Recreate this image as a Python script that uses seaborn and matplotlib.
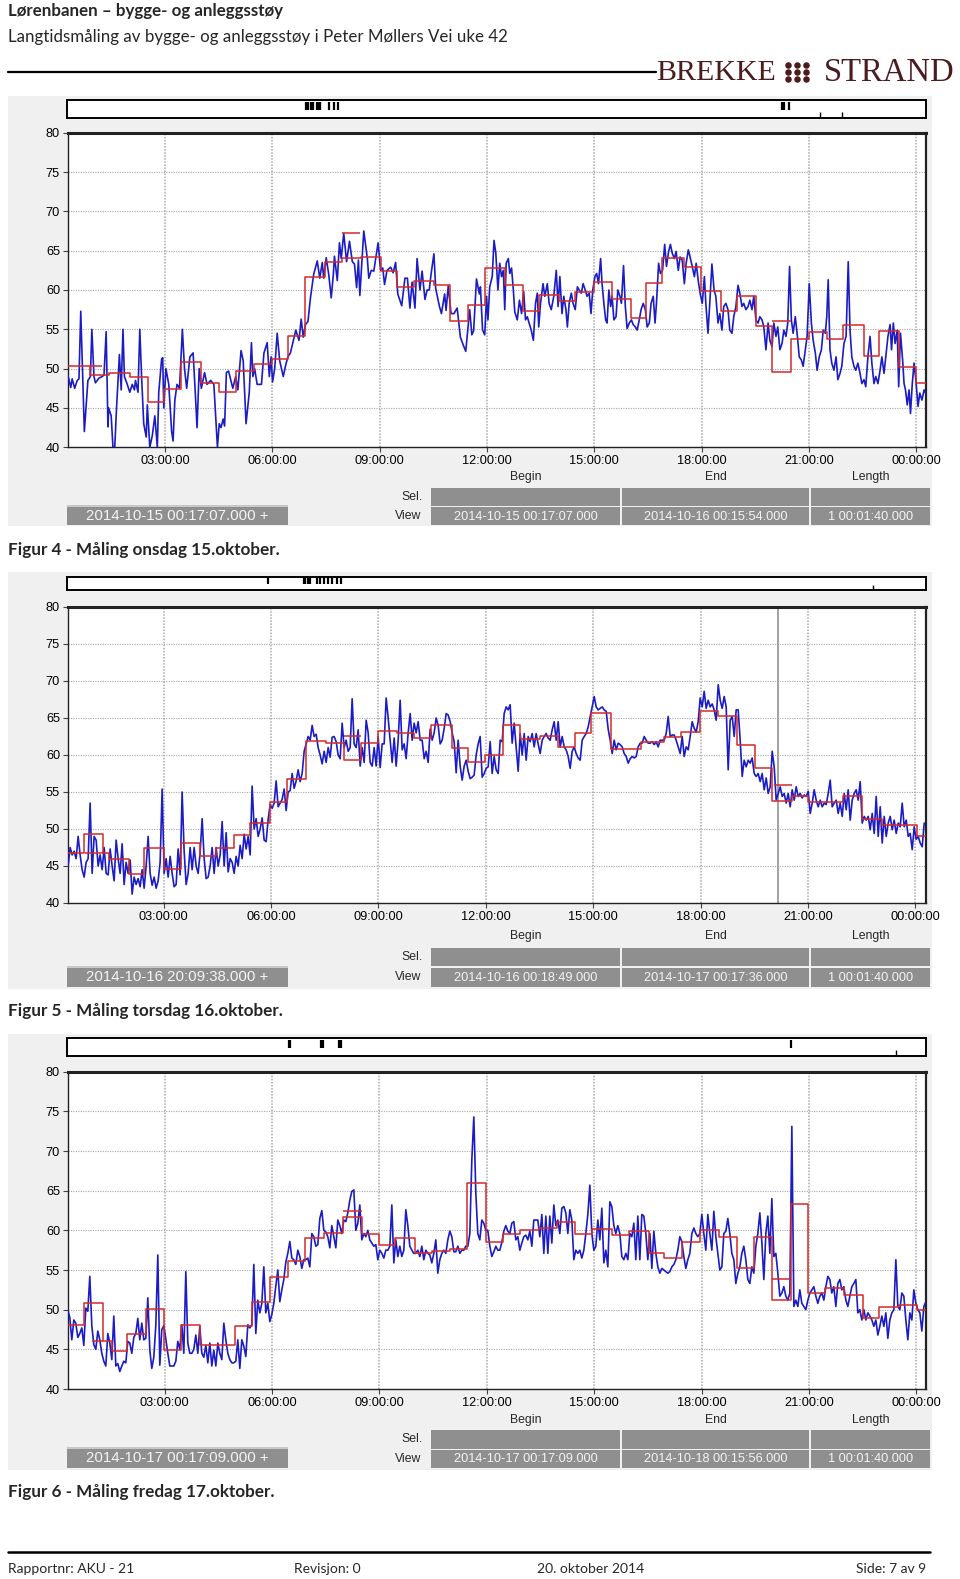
import numpy as np
import seaborn as sns
import matplotlib.pyplot as plt
from matplotlib.patches import Rectangle

W, H = 960, 1579

# ---------------- data (hours after midnight, dB) ----------------
# Figur 4 - blue trace, read point by point
p1_blue_t = [0.30, 0.37, 0.41, 0.48, 0.55, 0.60, 0.65, 0.75, 0.85, 0.92,
             0.96, 1.02, 1.06, 1.16, 1.25, 1.30, 1.36, 1.41, 1.43, 1.50,
             1.55, 1.60, 1.65, 1.73, 1.78, 1.83, 1.87, 1.95, 2.02, 2.09,
             2.15, 2.18, 2.25, 2.30, 2.35, 2.41, 2.48, 2.51, 2.58, 2.65,
             2.72, 2.79, 2.83, 2.91, 2.94, 2.97, 3.03, 3.11, 3.19, 3.23,
             3.28, 3.34, 3.41, 3.49, 3.55, 3.61, 3.70, 3.79, 3.85, 3.90,
             3.96, 4.02, 4.11, 4.18, 4.28, 4.37, 4.47, 4.52, 4.57, 4.63,
             4.67, 4.72, 4.78, 4.84, 4.90, 4.98, 5.04, 5.13, 5.19, 5.27,
             5.36, 5.42, 5.46, 5.51, 5.58, 5.70, 5.77, 5.86, 5.92, 5.97,
             6.01, 6.07, 6.14, 6.21, 6.31, 6.38, 6.44, 6.51, 6.66, 6.75,
             6.81, 6.87, 6.93, 7.00, 7.07, 7.16, 7.26, 7.33, 7.40, 7.44,
             7.51, 7.58, 7.65, 7.71, 7.74, 7.82, 7.88, 7.93, 8.00, 8.08,
             8.16, 8.24, 8.30, 8.36, 8.41, 8.45, 8.56, 8.66, 8.70, 8.77,
             8.84, 8.96, 9.03, 9.09, 9.14, 9.21, 9.31, 9.38, 9.45, 9.51,
             9.62, 9.71, 9.78, 9.85, 9.91, 9.99, 10.05, 10.13, 10.19, 10.27,
             10.33, 10.39, 10.44, 10.52, 10.57, 10.67, 10.73, 10.82, 10.86, 10.92,
             11.00, 11.08, 11.17, 11.26, 11.34, 11.41, 11.52, 11.58, 11.63, 11.71,
             11.79,
             11.82, 11.88, 11.94, 11.99, 12.03, 12.08, 12.15, 12.20, 12.25, 12.31,
             12.36, 12.41, 12.46, 12.50, 12.54, 12.60, 12.64, 12.69, 12.74, 12.78,
             12.85, 12.91, 12.97, 13.03, 13.08, 13.13, 13.18, 13.24, 13.30, 13.36,
             13.41, 13.45, 13.50, 13.57, 13.62, 13.69, 13.74, 13.80, 13.87, 13.94,
             13.99, 14.04, 14.10, 14.15, 14.21, 14.25, 14.30, 14.36, 14.41, 14.47,
             14.53, 14.58, 14.64, 14.69, 14.75, 14.80, 14.86, 14.91, 14.96, 15.02,
             15.07, 15.12, 15.18, 15.22, 15.27, 15.32, 15.36, 15.41, 15.46, 15.50,
             15.55, 15.61, 15.66, 15.72, 15.76, 15.82, 15.87, 15.92, 15.98, 16.04,
             16.09, 16.15, 16.20, 16.26, 16.31, 16.37, 16.43, 16.48, 16.54, 16.59,
             16.65, 16.70, 16.74, 16.80, 16.85, 16.91, 16.97, 17.02, 17.08, 17.13,
             17.18, 17.24, 17.29, 17.35, 17.40, 17.46, 17.52, 17.57, 17.63, 17.68,
             17.74, 17.80, 17.85, 17.91, 17.96, 18.02, 18.08, 18.12, 18.18, 18.23,
             18.29, 18.35, 18.40, 18.46, 18.51, 18.57, 18.62, 18.68, 18.74, 18.79,
             18.85, 18.90, 18.96, 19.02, 19.07, 19.13, 19.18, 19.24, 19.30, 19.35,
             19.41, 19.46, 19.52, 19.58, 19.63, 19.69, 19.74, 19.80, 19.86, 19.91,
             19.97, 20.02, 20.08, 20.13, 20.19, 20.25, 20.30, 20.36, 20.41, 20.46,
             20.51, 20.56, 20.62, 20.68, 20.73, 20.79, 20.84, 20.90, 20.95, 21.01,
             21.07, 21.12, 21.18, 21.23, 21.29, 21.35, 21.40, 21.46, 21.50, 21.54,
             21.59, 21.64, 21.70, 21.76, 21.81, 21.87, 21.92, 21.98, 22.04, 22.10,
             22.15, 22.20, 22.26, 22.31, 22.37, 22.43, 22.48, 22.54, 22.59, 22.65,
             22.71, 22.76, 22.82, 22.87, 22.93, 22.99, 23.04, 23.10, 23.15, 23.21,
             23.27, 23.31, 23.36, 23.41, 23.47, 23.51, 23.56, 23.62, 23.66, 23.70,
             23.75, 23.80, 23.84, 23.89, 23.94, 23.99, 24.05, 24.10, 24.16, 24.22,
             24.26]
p1_blue_v = [49, 47.6, 48.7, 47.5, 48.5, 48.7, 57.3, 42, 48.5, 49,
             55, 49, 48.2, 48.8, 49, 49.2, 54.7, 42.6, 45, 44,
             40, 40, 45, 51.8, 47.3, 55, 49, 48, 47, 48,
             47.3, 48.5, 47, 55, 49, 43, 41.3, 45.4, 40, 41.5,
             44, 40, 47, 51.2, 51.4, 45, 50, 48, 42, 40.8,
             46, 48, 47.5, 55, 50, 47.5, 51.5, 52, 47, 42.5,
             50, 47.5, 49.5, 48, 48.5, 48, 40, 43, 42.5, 43.6,
             42.7, 49.5, 49.7, 48.6, 47.5, 49, 47.3, 52.3, 51, 43,
             47, 53.3, 49, 50, 48, 48, 52, 53.3, 49, 51.5,
             48.3, 50, 54.5, 51, 49, 50.5, 51.5, 52, 54.9, 53.6,
             56.3, 54, 55.6, 56, 59, 62, 63.7, 61.5, 63.5, 61.5,
             64.1, 62, 59, 62, 64.3, 61.2, 66, 64, 67.2, 63.6,
             66.2, 63.6, 63.3, 60.3, 63.8, 59.3, 67.5, 64, 61.5, 62.5,
             62.4, 66, 62.5, 62.8, 60.7, 62.5, 62.9, 62.2, 63.5, 59.5,
             58, 61.5, 61.5, 57.7, 61, 57.7, 64, 60, 62.4, 58.8,
             60, 60, 62, 64.6, 60.2, 58, 57, 59.5, 57.4, 60.5,
             57, 57, 57.7, 54, 53, 52.2, 57.5, 54.3, 54.8, 61.4,
             59.5,
             60.4, 54.9, 54.3, 59.2, 56.2, 60.4, 61.7, 66.3, 64.7, 60.0,
             63.4, 61.7, 62.5, 57.5, 63.4, 64.0, 62.1, 62.8, 60.0, 57.2,
             56.2, 58.7, 57.0, 59.8, 56.2, 56.6, 55.8, 54.9, 53.6, 58.3,
             59.6, 55.3, 58.3, 60.8, 59.2, 60.8, 58.3, 57.5, 59.2, 62.5,
             57.9, 61.7, 57.0, 59.2, 57.5, 55.3, 58.3, 59.6, 58.3, 57.5,
             60.4, 60.0, 59.6, 60.8, 60.0, 59.2, 59.6, 57.0, 60.0, 61.7,
             62.1, 60.8, 64.0, 60.8, 58.3, 56.2, 55.8, 60.0, 57.9, 59.2,
             56.2, 56.6, 60.0, 59.2, 58.3, 63.1, 57.9, 55.1, 55.8, 56.2,
             55.6, 55.3, 54.9, 56.2, 57.5, 58.3, 57.5, 55.3, 55.8, 58.3,
             59.2, 55.8, 58.3, 63.4, 62.1, 62.5, 65.8, 63.0, 64.9, 65.8,
             64.7, 64.0, 64.9, 62.5, 64.2, 63.8, 60.8, 63.4, 65.1, 64.2,
             63.0, 61.7, 63.4, 61.1, 59.6, 58.3, 61.7, 58.3, 54.5, 58.3,
             63.3, 60.0, 59.2, 55.8, 57.0, 54.9, 57.9, 58.3, 57.5, 54.9,
             54.5, 56.6, 57.9, 60.6, 59.6, 57.9, 58.3, 57.5, 57.9, 58.7,
             57.5, 59.2, 56.2, 55.8, 56.6, 56.2, 55.3, 52.4, 55.8, 53.6,
             52.8, 55.8, 54.1, 55.3, 52.4, 53.2, 54.9, 54.1, 55.8, 63.0,
             56.2, 54.5, 56.6, 54.1, 51.5, 51.1, 50.3, 52.4, 54.1, 60.8,
             55.8, 53.6, 52.0, 49.8, 51.5, 52.4, 54.9, 54.5, 56.6, 61.3,
             52.4, 50.7, 49.8, 51.5, 48.6, 49.4, 50.3, 53.2, 54.1, 63.6,
             54.9, 51.5, 50.3, 49.8, 50.7, 49.4, 48.1, 48.6, 47.7, 51.5,
             54.1, 50.7, 48.1, 49.0, 48.1, 49.8, 51.5, 49.4, 51.5, 54.1,
             55.6, 52.4, 55.8, 53.2, 54.9, 47.7, 54.5, 51.1, 48.1, 47.3,
             45.4, 47.3, 44.3, 48.1, 50.7, 48.6, 45.2, 46.9, 46.0, 47.3,
             46.9]

# Figur 5 / 6 - blue traces, logged on a fixed clock (first sample, interval in hours)
p2_blue_start, p3_blue_start = 0.326, 0.289
blue_interval = 0.0559
p2_blue_v = [45, 47.5, 46.5, 47, 46, 49, 46.5, 44.5, 43.5, 45.5,
             46, 53.5, 44, 49, 48.5, 45, 46.5, 44.5, 47.5, 44,
             43.8, 47.3, 45, 43, 48.5, 46, 44, 48, 42.5, 45.5,
             44, 45.8, 41.2, 43.5, 42.5, 43.3, 42.2, 44.5, 42, 45,
             49, 44, 42.4, 43.5, 42, 43, 45.5, 55.4, 44, 46,
             43.5, 46.3, 44, 42.2, 42.5, 47.3, 43.8, 55, 47, 42.5,
             44, 47.5, 44.5, 47.5, 45, 44, 46.8, 51.4, 46, 43.3,
             43.5, 45, 47.5, 44, 47.5, 45, 46.5, 51, 45, 49.5,
             44.2, 46, 45.5, 44, 46.3, 45, 47.8, 46, 49.3, 47.3,
             49, 46.5, 55.8, 50, 51.4, 49, 50, 51.5, 48.5, 48.3,
             51.3, 53.3, 52.8, 53.5, 56.5, 53, 53.5, 54, 55.4, 52.5,
             55, 55.2, 57.5, 55.5, 56.5, 58, 56.4, 57.5, 60.5, 61.5,
             62.5, 62, 64, 62.5, 62.8, 61, 60, 58.8, 60.5, 59,
             61, 59.7, 62.4, 62.5, 61.8, 60, 59.5, 64.3, 61, 62,
             60.5, 61, 67.6, 61.5, 61, 63.4, 58.5, 61, 59, 64.7,
             63, 59, 58.5, 61, 58.5, 62.5, 58.3, 61.5, 61.5, 67.7,
             65, 62, 59, 62.3, 58.5, 62, 67.4, 60.7, 61.5, 59.5,
             63, 65.6, 62, 64.3, 63, 64.5, 62, 62, 59.5, 60.5,
             59, 63.5, 62, 63, 65, 64, 61.5, 62, 63.6, 65.6,
             65.4, 64.5, 63, 61.8, 57.6, 62, 58.5, 56.6, 58.5, 59.3,
             57.8, 56.8, 57, 57.3, 60, 61.5, 62.5,
             57, 57.5, 58.2, 58.4, 61.8, 57.5, 59.8, 58, 57.5, 62,
             61.8, 65.6, 66.5, 66.1, 66.8, 61.6, 64.3, 61.1, 57.8, 62.9,
             60, 62.9, 59.3, 62.5, 61.8, 62.9, 61.1, 62.9, 61.5, 60.2,
             62, 62.5, 62.9, 62.3, 62, 63.4, 64.5, 62, 64.5, 61.1,
             62.5, 61.1, 60.7, 59.8, 58.2, 60.5, 61.1, 60.2, 59.6, 59.3,
             62, 62.5, 62.9, 63.8, 65.2, 66.5, 67.9, 66.5, 66.1, 66.3,
             66.5, 66.1, 65.9, 63.5, 62, 60.2, 62, 60.7, 61.6, 61.4,
             61.1, 60.2, 59.8, 58.9, 59.5, 59.8, 59.6, 59.8, 61.1, 61.6,
             61.6, 62.5, 62, 61.6, 61.6, 61.8, 61.4, 61.8, 61.1, 62,
             62, 62, 62.9, 65.2, 62.5, 62.7, 62.7, 62, 61.1, 60.2,
             62.5, 59.8, 61.1, 60.7, 62.5, 64.5, 63.6, 63.1, 64.5, 67.7,
             66.5, 68.6, 66.3, 67.4, 66.5, 66.9, 66.1, 64.7, 69.5, 67.4,
             66.3, 67.9, 66.5, 58, 64.7, 65.2, 62.5, 66.1, 66.1, 62,
             57.1, 59.3, 58.4, 59.3, 58.9, 59.6, 57.5, 57.1, 57.5, 56.4,
             57.5, 55.3, 56.9, 54.8, 55.7, 60.5, 58.4, 53.9, 54.8, 55.7,
             54.4, 54.8, 53.5, 54.8, 53, 55.3, 53.9, 55.7, 54.4, 54.8,
             54.2, 54.6, 54.4, 55.1, 52.1, 53.5, 55.3, 53.9, 53, 53.9,
             53, 53.5, 53.3, 54.8, 56.6, 53, 53.5, 53.9, 52.1, 53.5,
             51.7, 54.8, 52.6, 55.3, 51.2, 53.9, 54.8, 55.3, 53.9, 56.4,
             50.8, 51.7, 51.2, 51.7, 49.9, 52.1, 49.4, 54.4, 49, 53,
             48.1, 51.7, 49, 50.8, 51.7, 49.9, 51.2, 49.4, 50.8, 50.3,
             53.5, 50.3, 51.2, 49, 49.4, 47.2, 50.3, 48.6, 49, 48.1,
             47.6, 50.8]
p3_blue_v = [50, 49, 46.2, 48.7, 48.3, 46.5, 47, 47.7, 45.5, 50.2,
             49.8, 54.2, 48, 45.6, 45, 47.3, 46.2, 44.5, 43.5, 42.9,
             47, 45.8, 43.7, 49.2, 42.9, 43.2, 42.2, 42.9, 43.5, 43.3,
             46, 45.8, 44.5, 46.5, 47, 48.9, 46.2, 48.3, 46.2, 46.4,
             51.5, 44.9, 42.6, 44, 48, 56.9, 43, 47.5, 48, 46.3,
             44.5, 42.9, 42.9, 42.9, 43.5, 46, 45, 48.1, 44.5, 54.8,
             45.8, 44.5, 44.5, 45, 46.8, 44.5, 47.9, 44.5, 44, 45.5,
             43.3, 45.8, 42.9, 44.9, 42.9, 45.8, 44.5, 43.7, 48.3, 46.2,
             44.5, 43.7, 43.3, 43.3, 43.5, 46.2, 42.6, 46.2, 45.4, 44.1,
             48.1, 47.7, 48.1, 55.7, 47, 51.2, 49.6, 50.8, 55.4, 49.6,
             50.8, 48.5, 49.4, 50.8, 53, 55, 51, 52.5, 53.8, 56,
             57.1, 58.6, 56.5, 56.3, 55.7, 57.5, 56.7, 55.2, 56.3, 56.3,
             56.5, 55.4, 59.6, 59.2, 58, 58.2, 61.5, 62.5, 60, 59.8,
             59.2, 57.8, 60.6, 59.2, 57.8, 61.3, 60.6, 59.6, 61.3, 61.1,
             62.2, 63.8, 64.9, 65.1, 60, 60.9, 63.2, 58.8, 59.6, 59.2,
             60, 58.8, 58.4, 58, 58.2, 56.3, 57.5, 57.1, 56.5, 57.5,
             57.5, 58, 63.2, 55.9, 58.8, 56.7, 58, 56.7, 57.5, 62.6,
             60.6, 58, 57.5, 57.1, 57.1, 57.5, 56.7, 58, 56.3, 57.5,
             57.1, 56.9, 55.9, 57.1, 58.8, 54.6, 56.3, 57.1, 57.5, 57.1,
             58.8, 59.9, 59.2, 57.3, 57.3, 58, 57.1, 57.5, 57.5, 58,
             58, 59.6, 68.9, 74.3, 64.7, 59.6, 58.8,
             61.3, 60.9, 60, 60, 58, 56.7, 57.3, 58, 57.5, 57.5,
             58.5, 59.9, 60.6, 59.9, 59.6, 60.9, 61.1, 58.8, 59.2, 57.5,
             58.4, 59.2, 59.4, 58.8, 59.9, 58, 61.3, 61.3, 61.3, 59.2,
             62, 57.1, 61.8, 57.1, 61.8, 58.4, 63.2, 60.6, 61.3, 59.6,
             62.8, 63, 62.2, 59.6, 62.6, 61.3, 56.3, 57.5, 57.1, 57.5,
             56.5, 57.5, 59.6, 62, 65.7, 59.6, 57.5, 58, 61.3, 58.8,
             62.8, 55.9, 57.5, 55.4, 63.6, 63, 60.6, 59.6, 60.6, 59.6,
             56.7, 56.3, 57.1, 56.3, 59.6, 59.2, 60.9, 56.3, 61.8, 56.3,
             62, 61.8, 59.6, 56.3, 59.6, 55.2, 59.9, 57.1, 55.4, 54.6,
             55.2, 55, 54.8, 54.6, 54.8, 55.4, 55.7, 56.3, 57.5, 59.2,
             58.6, 56.7, 55.2, 56.3, 57.1, 59.6, 60.3, 59.6, 59.2, 59.6,
             62, 59.6, 57.5, 62, 59.6, 57.5, 62.4, 59.2, 57.1, 55,
             55.4, 59.6, 59.9, 61.5, 59.6, 57.1, 56.3, 53.3, 54.6, 55.4,
             57.1, 58, 56.3, 53.8, 53.3, 55.4, 54.6, 58, 59.6, 62.2,
             58.5, 53.8, 59.6, 61.8, 57.1, 64, 56.7, 57.1, 54.6, 51.7,
             52.1, 52.9, 51.7, 51.2, 52.1, 73.1, 50.4, 51.2, 50.4, 52.5,
             50.8, 50.4, 50, 51.2, 52.1, 52.5, 52.9, 51.7, 50.8, 51.7,
             52.1, 51.2, 52.9, 54.2, 53.8, 52.1, 52.9, 50.4, 53.3, 53.8,
             52.5, 52.9, 51.2, 50.4, 51.7, 52.9, 53.3, 53.8, 49.6, 50,
             48.7, 50, 48.7, 49.6, 49.2, 48.7, 47.9, 48.7, 46.8, 47.9,
             49.2, 47.9, 49.6, 46.4, 48.7, 49.6, 50, 56.3, 50.4, 50,
             52.1, 51.7, 48.7, 46.2, 49.6, 48.7, 52.5, 50.8, 50, 49.6,
             47.3, 50.4, 51]

# red 30-minute levels: start of each interval, level, end of last interval
p1_red_t = [0.30, 0.92, 1.43, 2.02, 2.52, 2.98, 3.44, 4.0, 4.5, 4.99,
            5.5, 6.0, 6.44, 6.92, 7.47, 7.96, 8.47, 9.03, 9.49, 9.96,
            10.52, 10.96, 11.47, 11.94, 12.52, 13.01, 13.45, 14.01, 14.45, 14.99,
            15.5, 16.02, 16.45, 16.9, 17.5, 17.99, 18.53, 18.99, 19.51, 19.98,
            20.49, 21.0, 21.51, 21.95, 22.53, 22.96, 23.52, 24.0]
p1_red_v = [50.3, 49.2, 49.4, 49.0, 45.8, 47.4, 50.8, 48.2, 47.0, 49.7,
            50.6, 51.2, 54.1, 61.7, 63.5, 64.1, 64.2, 62.4, 60.4, 61.1,
            60.6, 56.0, 58.1, 62.8, 60.6, 57.3, 59.4, 58.6, 59.7, 61.0,
            58.9, 56.4, 60.9, 64.1, 62.9, 59.9, 57.3, 59.3, 55.4, 49.6,
            53.8, 54.6, 53.8, 55.6, 51.6, 54.8, 50.2, 48.2]
p1_red_end = 24.26
p2_red_t = [0.33, 0.76, 1.3, 1.46, 2.03, 2.46, 3.0, 3.47, 4.0, 4.45,
            4.96, 5.42, 5.98, 6.45, 6.96, 7.52, 8.03, 8.5, 9.0, 9.52,
            9.99, 10.46, 11.06, 11.51, 11.97, 12.47, 12.95, 13.51, 14.02, 14.49,
            14.95, 15.51, 16.35, 16.98, 17.45, 17.98, 18.5, 19.01, 19.52, 19.99,
            20.55, 21.01, 21.97, 22.52, 23.06, 24.04]
p2_red_v = [46.7, 49.3, 46.7, 46.0, 43.9, 47.4, 44.6, 48.1, 46.4, 47.4,
            49.2, 50.8, 53.7, 56.7, 61.9, 61.6, 59.3, 61.6, 63.3, 63.0,
            62.3, 64.0, 60.9, 59.1, 60.0, 64.1, 62.2, 62.6, 61.1, 63.0,
            65.7, 60.8, 61.8, 62.5, 63.1, 65.9, 65.3, 61.3, 58.2, 53.8,
            54.4, 53.7, 54.5, 51.3, 50.6, 49.1]
p2_red_end = 24.29
p3_red_t = [0.29, 0.73, 1.27, 1.52, 1.94, 2.47, 2.99, 3.46, 3.99, 4.97,
            5.45, 5.93, 6.44, 6.92, 7.44, 7.98, 8.51, 8.99, 9.44, 10.0,
            10.47, 10.98, 11.44, 11.98, 12.45, 12.93, 13.45, 13.96, 14.47, 14.94,
            15.5, 15.96, 16.52, 16.94, 17.45, 17.97, 18.48, 18.99, 19.46, 19.97,
            20.49, 20.98, 21.46, 21.98, 22.51, 22.96, 23.52, 24.03]
p3_red_v = [48.1, 50.8, 46.0, 44.8, 46.9, 50.1, 44.9, 48.1, 45.6, 48.0,
            51.0, 54.1, 56.1, 59.0, 59.7, 61.7, 59.5, 58.2, 59.0, 57.1,
            57.4, 57.6, 66.0, 58.5, 59.6, 60.0, 60.3, 61.1, 59.6, 60.2,
            59.4, 59.9, 57.2, 56.5, 58.5, 60.1, 59.1, 55.2, 59.1, 51.2,
            63.3, 52.1, 52.7, 51.9, 48.9, 50.4, 50.6, 50.0]
p3_red_end = 24.27

# loose red segments that overlap the main step line: (from, to, level)
p1_red_extra = [(0.92, 1.25, 50.3), (7.96, 8.45, 67.2), (19.98, 20.49, 56.0)]
p2_red_extra = [(0.80, 1.30, 46.7), (8.03, 8.50, 62.6), (20.05, 20.55, 56.0)]
p3_red_extra = [(0.96, 1.27, 46.0), (7.98, 8.51, 62.4), (19.97, 20.44, 53.9)]

# event marks in the overview strip (hours)
p1_marks_top = [6.95, 7.0, 7.1, 7.15, 7.25, 7.3, 7.35, 7.6, 7.75, 7.85, 20.25, 20.3, 20.45]
p1_marks_bot = [21.3, 21.92]
p2_marks_top = [5.92, 6.93, 6.97, 7.05, 7.1, 7.3, 7.38, 7.5, 7.6, 7.72, 7.85, 7.95]
p2_marks_bot = [22.83]
p3_marks_top = [6.48, 6.52, 7.38, 7.43, 7.88, 7.92, 20.49]
p3_marks_bot = [23.45]

p1_xlim = (0.285, 24.265)
p2_xlim = (0.314, 24.293)
p3_xlim = (0.286, 24.266)
p2_cursor = 20.16

tick_hours = [3, 6, 9, 12, 15, 18, 21, 24]
tick_labels = ['03:00:00', '06:00:00', '09:00:00', '12:00:00',
               '15:00:00', '18:00:00', '21:00:00', '00:00:00']
y_ticks = [40, 45, 50, 55, 60, 65, 70, 75, 80]

p1_info = ['2014-10-15 00:17:07.000 +', '2014-10-15 00:17:07.000',
           '2014-10-16 00:15:54.000', '1 00:01:40.000']
p2_info = ['2014-10-16 20:09:38.000 +', '2014-10-16 00:18:49.000',
           '2014-10-17 00:17:36.000', '1 00:01:40.000']
p3_info = ['2014-10-17 00:17:09.000 +', '2014-10-17 00:17:09.000',
           '2014-10-18 00:15:56.000', '1 00:01:40.000']
captions = ['Figur 4 - Måling onsdag 15.oktober.',
            'Figur 5 - Måling torsdag 16.oktober.',
            'Figur 6 - Måling fredag 17.oktober.']

# ---------------- style ----------------
BLUE = '#1c1cc4'
RED = '#d42a2a'
PANEL_BG = '#f0f0f0'
BOX = '#8f8f8f'
LOGO = '#4a1c1e'
DOC_FONT = ['Lato', 'DejaVu Sans']

sns.set_theme(style='white')
plt.rcParams['font.family'] = ['Liberation Sans', 'DejaVu Sans']


def frac(l, t, r, b):
    return [l / W, 1 - b / H, (r - l) / W, (b - t) / H]


def draw_panel(fig, deco, geo, blue_t, blue_v, red_t, red_v, red_end, red_extra,
               marks_top, marks_bot, xlim, info, caption, cursor=None):
    x0, x1 = 67.7, 925.7

    # grey background of the viewer window
    deco.add_patch(Rectangle((8, geo['bg'][0]), 924, geo['bg'][1] - geo['bg'][0],
                             color=PANEL_BG, lw=0, zorder=0))

    # overview strip with event marks
    ov = fig.add_axes(frac(x0 - 0.5, geo['strip'][0], x1, geo['strip'][1]))
    ov.set_facecolor('white')
    ov.set_xlim(*xlim)
    ov.set_ylim(0, 1)
    ov.vlines(marks_top, 0.45, 0.9, color='black', lw=1.6)
    ov.vlines(marks_bot, 0.0, 0.35, color='black', lw=1.0)
    ov.set_xticks([])
    ov.set_yticks([])
    for s in ov.spines.values():
        s.set_color('black')
        s.set_linewidth(1.4)

    # main time history
    ax = fig.add_axes(frac(x0, geo['ax'][0], x1, geo['ax'][1]))
    ax.set_facecolor('white')
    sns.lineplot(x=blue_t, y=blue_v, ax=ax, color=BLUE, lw=1.2,
                 estimator=None, sort=False, zorder=3)
    step_x = list(red_t) + [red_end]
    step_y = list(red_v) + [red_v[-1]]
    sns.lineplot(x=step_x, y=step_y, ax=ax, color=RED, lw=1.1,
                 estimator=None, sort=False, drawstyle='steps-post', zorder=4)
    for a, b, lev in red_extra:
        ax.hlines(lev, a, b, color=RED, lw=1.1, zorder=4)
    if cursor is not None:
        ax.axvline(cursor, color='#9a9a9a', lw=1.3, zorder=2)

    ax.set_xlim(*xlim)
    ax.set_ylim(40, 80)
    ax.set_xticks(tick_hours)
    ax.set_xticklabels(tick_labels)
    ax.set_yticks(y_ticks)
    ax.set_yticklabels([str(v) for v in y_ticks])
    ax.set_xlabel('')
    ax.set_ylabel('')
    ax.tick_params(axis='both', direction='out', length=3.5, width=0.8,
                   color='#444444', labelsize=9.2, pad=2, colors='black')
    ax.tick_params(axis='x', bottom=True)
    ax.tick_params(axis='y', left=True)
    ax.xaxis.grid(True, color='#a8a8a8', lw=1.1, ls=(0, (1, 1)))
    ax.yaxis.grid(True, color='#a8a8a8', lw=0.8, ls=(0, (1, 1.2)))
    ax.set_axisbelow(True)
    for name, s in ax.spines.items():
        s.set_visible(True)
        s.set_color('#222222')
    ax.spines['top'].set_linewidth(2.2)
    ax.spines['right'].set_linewidth(1.6)
    ax.spines['left'].set_linewidth(1.0)
    ax.spines['bottom'].set_linewidth(1.0)

    # selection / view info rows
    cols = [(431, 620), (622, 809), (811, 930)]
    for (a, b), lab in zip(cols, ['Begin', 'End', 'Length']):
        deco.text((a + b) / 2, geo['begin'], lab, ha='center', va='center', fontsize=8.8)
    for (a, b) in cols:
        for row in ('sel', 'view'):
            t, btm = geo[row]
            deco.add_patch(Rectangle((a, t), b - a, btm - t, color=BOX, lw=0, zorder=1))
    for (a, b), txt in zip(cols, info[1:]):
        t, btm = geo['view']
        deco.text((a + b) / 2, (t + btm) / 2 + 0.5, txt, ha='center', va='center',
                  fontsize=9.2, color='#f4f4f4', zorder=2)
    deco.text(423, sum(geo['sel']) / 2, 'Sel.', ha='right', va='center', fontsize=8.8)
    deco.text(421, sum(geo['view']) / 2, 'View', ha='right', va='center', fontsize=8.8)

    t, btm = geo['date']
    deco.add_patch(Rectangle((67, t), 221, btm - t, color=BOX, lw=0, zorder=1))
    deco.add_patch(Rectangle((67, t), 221, 1.5, color='#c8c8c8', lw=0, zorder=1))
    deco.text(177, (t + btm) / 2 + 0.5, info[0], ha='center', va='center',
              fontsize=10.8, color='#f4f4f4', zorder=2)

    deco.text(8, geo['caption'], caption, ha='left', va='center',
              fontsize=12.3, fontweight='bold', family=DOC_FONT)


def main():
    fig = plt.figure(figsize=(W / 100, H / 100), dpi=100)
    fig.patch.set_facecolor('white')
    deco = fig.add_axes([0, 0, 1, 1])
    deco.set_xlim(0, W)
    deco.set_ylim(H, 0)
    deco.axis('off')

    # page header
    deco.text(8, 11, 'Lørenbanen – bygge- og anleggsstøy', ha='left', va='center',
              fontsize=12.2, fontweight='bold', family=DOC_FONT)
    deco.text(8, 37, 'Langtidsmåling av bygge- og anleggsstøy i Peter Møllers Vei uke 42',
              ha='left', va='center', fontsize=12.2, family=DOC_FONT)
    deco.plot([8, 656], [71.5, 71.5], color='black', lw=1.6)
    deco.text(656, 72.5, 'BREKKE', ha='left', va='center', fontsize=21.5,
              family=['Liberation Serif'], color=LOGO)
    deco.text(954, 72.5, 'STRAND', ha='right', va='center', fontsize=23.5,
              family=['Liberation Serif'], color=LOGO)
    dot_x = [788, 797, 806, 788, 797, 806, 788, 797, 806]
    dot_y = [65, 65, 65, 72, 72, 72, 79, 79, 79]
    deco.scatter(dot_x, dot_y, s=22, color=LOGO, marker='o', linewidths=0)

    geos = [
        dict(bg=(96, 526), strip=(100, 118), ax=(132.7, 447.3), begin=477,
             sel=(488, 506), view=(507, 525), date=(505, 525), caption=550),
        dict(bg=(572, 989), strip=(577, 590), ax=(607, 903), begin=936,
             sel=(948, 966), view=(968, 987), date=(966, 987), caption=1011),
        dict(bg=(1034, 1470), strip=(1038, 1056), ax=(1071.7, 1389), begin=1420,
             sel=(1430, 1449), view=(1450, 1468), date=(1447, 1468), caption=1492),
    ]

    p2_blue_t = p2_blue_start + blue_interval * np.arange(len(p2_blue_v))
    p3_blue_t = p3_blue_start + blue_interval * np.arange(len(p3_blue_v))

    draw_panel(fig, deco, geos[0], p1_blue_t, p1_blue_v, p1_red_t, p1_red_v, p1_red_end,
               p1_red_extra, p1_marks_top, p1_marks_bot, p1_xlim, p1_info, captions[0])
    draw_panel(fig, deco, geos[1], p2_blue_t, p2_blue_v, p2_red_t, p2_red_v, p2_red_end,
               p2_red_extra, p2_marks_top, p2_marks_bot, p2_xlim, p2_info, captions[1],
               cursor=p2_cursor)
    draw_panel(fig, deco, geos[2], p3_blue_t, p3_blue_v, p3_red_t, p3_red_v, p3_red_end,
               p3_red_extra, p3_marks_top, p3_marks_bot, p3_xlim, p3_info, captions[2])

    # page footer
    deco.plot([8, 930], [1552, 1552], color='black', lw=1.8)
    for x, txt, ha in [(8, 'Rapportnr: AKU - 21', 'left'), (294, 'Revisjon: 0', 'left'),
                       (537, '20. oktober 2014', 'left'), (926, 'Side: 7 av 9', 'right')]:
        deco.text(x, 1569, txt, ha=ha, va='center', fontsize=10, family=DOC_FONT)

    fig.savefig('out.png', dpi=100)


if __name__ == "__main__":
    main()
